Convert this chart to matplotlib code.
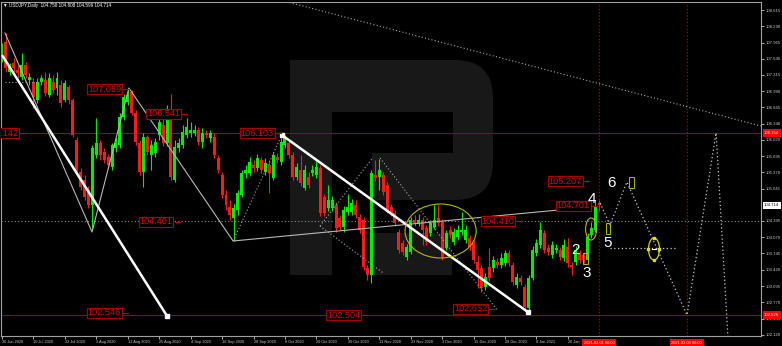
import matplotlib
matplotlib.use('Agg')
import matplotlib.pyplot as plt
from matplotlib.patches import Ellipse, Rectangle, FancyBboxPatch
from matplotlib import transforms

plt.rcParams['font.family'] = ['Liberation Sans', 'DejaVu Sans']

# ---------------- data (USDJPY daily) ----------------
opens = [107.615, 107.975, 107.375, 107.555, 107.415, 107.275, 107.515, 107.215, 107.175, 106.815,
         107.175, 107.215, 106.915, 107.175, 107.055, 107.115, 106.815, 107.075, 106.815, 106.015,
         105.375, 105.215, 105.015, 104.715, 105.715, 105.955, 105.775, 105.675, 105.475, 105.855,
         105.915, 106.475, 106.775, 106.975, 106.555, 105.955, 105.375, 106.075, 105.715, 105.755,
         106.115, 106.315, 105.955, 106.555, 105.215, 105.855, 105.915, 106.115, 106.155, 106.155,
         106.215, 105.975, 106.155, 106.055, 106.075, 105.655, 105.315, 104.915, 104.675, 104.455,
         104.615, 104.915, 105.355, 105.355, 105.515, 105.455, 105.615, 105.375, 105.515, 105.255,
         105.675, 105.575, 105.915, 105.955, 105.715, 105.275, 105.415, 105.055, 105.275, 105.355,
         105.315, 105.455, 104.875, 104.655, 104.655, 104.715, 104.455, 104.275, 104.575, 104.575,
         104.715, 104.475, 104.415, 103.455, 103.315, 105.315, 105.275, 105.315, 105.115, 104.675,
         104.555, 104.175, 103.955, 103.675, 103.775, 104.415, 104.355, 104.415, 104.255, 104.155,
         104.275, 104.455, 104.375, 103.855, 104.215, 103.975, 104.075, 104.175, 104.015, 104.055,
         103.955, 103.575, 103.455, 103.075, 103.475, 103.455, 103.575, 103.515, 103.555, 103.755,
         103.515, 103.115, 103.255, 103.075, 102.655, 103.255, 103.755, 103.915, 104.155, 103.855,
         103.715, 103.815, 103.815, 103.655, 103.875, 103.515, 103.575, 103.755, 103.715, 103.615,
         104.115, 104.215, 104.758]
highs = [107.955, 108.155, 107.555, 107.655, 107.515, 107.755, 107.575, 107.355, 107.255, 107.255,
         107.315, 107.375, 107.355, 107.315, 107.375, 107.215, 107.215, 107.115, 106.855, 106.075,
         105.455, 105.315, 105.095, 105.915, 106.455, 106.015, 105.855, 105.735, 105.955, 106.055,
         106.555, 106.935, 107.055, 107.015, 106.615, 106.015, 106.155, 106.115, 106.015, 106.055,
         106.455, 106.515, 106.715, 106.935, 106.015, 106.055, 106.315, 106.455, 106.375, 106.315,
         106.275, 106.255, 106.215, 106.215, 106.155, 105.715, 105.375, 105.015, 104.815, 104.735,
         105.015, 105.415, 105.515, 105.675, 105.615, 105.735, 105.675, 105.655, 105.615, 105.775,
         105.755, 106.055, 106.115, 106.015, 105.775, 105.555, 105.715, 105.515, 105.375, 105.515,
         105.615, 105.515, 104.935, 105.115, 104.895, 104.775, 104.515, 104.695, 104.935, 104.835,
         104.815, 104.535, 104.475, 103.515, 105.415, 105.615, 105.635, 105.375, 105.175, 104.735,
         104.615, 104.235, 104.015, 103.935, 104.475, 104.515, 104.535, 104.475, 104.315, 104.415,
         104.715, 104.715, 104.435, 104.215, 104.295, 104.255, 104.315, 104.575, 104.315, 104.115,
         104.015, 103.715, 103.515, 103.355, 103.855, 103.695, 103.655, 103.755, 103.815, 103.815,
         103.575, 103.355, 103.315, 103.135, 103.315, 103.895, 104.035, 104.375, 104.215, 103.935,
         103.995, 103.935, 103.875, 104.035, 104.055, 103.575, 103.895, 103.815, 103.775, 104.155,
         104.375, 104.815, 104.808]
lows = [107.575, 107.375, 107.315, 107.375, 107.255, 107.215, 107.255, 107.115, 106.655, 106.755,
        107.115, 106.895, 106.875, 106.955, 106.915, 106.675, 106.775, 106.735, 106.075, 105.295,
        105.015, 104.815, 104.655, 104.215, 105.655, 105.615, 105.555, 105.455, 105.415, 105.775,
        105.855, 106.415, 106.715, 106.515, 105.915, 105.315, 105.075, 105.715, 105.415, 105.675,
        106.015, 105.895, 105.895, 105.215, 105.175, 105.775, 105.855, 106.055, 106.075, 106.095,
        105.915, 105.855, 106.055, 105.975, 105.655, 105.355, 104.855, 104.615, 104.415, 103.995,
        104.515, 104.875, 105.255, 105.295, 105.375, 105.395, 105.355, 105.315, 104.955, 105.215,
        105.555, 105.515, 105.855, 105.655, 105.215, 105.215, 105.095, 105.015, 105.055, 105.295,
        105.255, 104.495, 104.495, 104.595, 104.595, 104.175, 104.215, 104.175, 104.515, 104.515,
        104.455, 104.155, 103.415, 103.215, 103.155, 105.195, 105.015, 104.915, 104.555, 104.495,
        104.295, 103.755, 103.715, 103.615, 103.735, 104.295, 104.295, 103.915, 103.915, 104.095,
        104.235, 104.295, 103.615, 103.815, 104.055, 103.915, 104.015, 104.115, 103.955, 103.815,
        103.555, 103.055, 102.975, 103.015, 103.195, 103.375, 103.455, 103.455, 103.495, 103.495,
        103.115, 103.055, 103.115, 102.615, 102.575, 103.215, 103.695, 103.855, 103.755, 103.715,
        103.655, 103.755, 103.615, 103.595, 103.475, 103.315, 103.515, 103.555, 103.555, 103.575,
        104.055, 104.175, 104.599]
closes = [107.915, 107.455, 107.475, 107.455, 107.355, 107.515, 107.315, 107.275, 106.875, 107.175,
          107.255, 106.955, 107.255, 107.015, 107.255, 106.755, 107.155, 106.815, 106.115, 105.355,
          105.075, 104.875, 104.715, 105.855, 105.955, 105.715, 105.615, 105.515, 105.915, 105.955,
          106.475, 106.875, 106.915, 106.555, 105.975, 105.375, 106.075, 105.775, 105.915, 105.975,
          106.375, 105.955, 106.555, 105.275, 105.875, 105.955, 106.175, 106.275, 106.215, 106.215,
          105.975, 106.155, 106.115, 106.155, 105.715, 105.415, 104.915, 104.715, 104.515, 104.655,
          104.955, 105.355, 105.415, 105.575, 105.455, 105.655, 105.415, 105.555, 105.355, 105.715,
          105.615, 105.975, 106.055, 105.715, 105.275, 105.475, 105.155, 105.415, 105.115, 105.415,
          105.475, 104.555, 104.555, 104.815, 104.815, 104.255, 104.275, 104.615, 104.675, 104.755,
          104.515, 104.215, 103.475, 103.315, 105.355, 105.255, 105.415, 104.975, 104.615, 104.555,
          104.355, 103.815, 103.775, 103.875, 104.415, 104.355, 104.415, 104.215, 103.975, 104.355,
          104.415, 104.355, 103.675, 104.155, 104.115, 104.175, 104.215, 104.215, 104.215, 103.875,
          103.615, 103.415, 103.055, 103.275, 103.255, 103.615, 103.515, 103.655, 103.755, 103.555,
          103.175, 103.275, 103.175, 102.675, 103.255, 103.815, 103.955, 104.215, 103.815, 103.775,
          103.915, 103.855, 103.675, 103.915, 103.555, 103.475, 103.815, 103.615, 103.615, 104.075,
          104.255, 104.675, 104.714]

date_labels = ["30 Jun 2020", "10 Jul 2020", "22 Jul 2020", "3 Aug 2020", "13 Aug 2020",
               "25 Aug 2020", "4 Sep 2020", "16 Sep 2020", "28 Sep 2020", "8 Oct 2020",
               "20 Oct 2020", "30 Oct 2020", "11 Nov 2020", "23 Nov 2020", "3 Dec 2020",
               "15 Dec 2020", "28 Dec 2020", "8 Jan 2021", "20 Jan"]
date_positions = [0, 8, 16, 24, 32, 40, 48, 56, 64, 72, 80, 88, 96, 104, 112, 120, 128, 136, 144]

price_ticks = [108.615, 108.290, 107.965, 107.640, 107.315, 106.990, 106.665, 106.340, 106.020,
               105.695, 105.370, 105.045, 104.395, 104.070, 103.745, 103.420, 103.095, 102.770,
               102.445, 102.120]

# level labels on the chart (text, bar index, price)
level_texts = ["107.059", "106.541", "106.103", "106.142", "104.401", "104.410", "104.701",
               "105.207", "102.546", "102.504", "102.652"]
level_idx = [26.2, 41.2, 64.9, -0.1, 39.2, 126.2, 145.3, 143.3, 26.0, 87.0, 119.3]
level_price = [107.035, 106.535, 106.155, 106.155, 104.375, 104.395, 104.695, 105.195,
               102.555, 102.515, 102.635]

red_levels = [106.155, 102.515]
dotted_level = 104.395
current_close = 104.714

# trend lines (bar index, price)
white_1_x, white_1_y = [0.0, 42.0], [107.715, 102.495]
white_2_x, white_2_y = [71.2, 133.8], [106.115, 102.575]
zigzag_x = [0.76, 22.9, 32.3, 58.8, 149.6]
zigzag_y = [108.155, 104.175, 107.055, 103.995, 104.675]
dotted_segments = [
    ([58.8, 71.2], [103.995, 106.115]),
    ([80.9, 94.1], [104.295, 105.635]),
    ([96.2, 126.0], [105.655, 102.615]),
    ([80.9, 97.0], [104.295, 103.355]),
    ([70.7, 193.1], [108.815, 106.295]),
    ([0.8, 7.9], [107.175, 107.175]),
]
forecast_x = [152.2, 154.7, 159.0, 174.3, 181.7, 184.7]
forecast_y = [104.755, 104.315, 105.175, 102.515, 106.155, 102.095]
forecast_h_x, forecast_h_y = [154.7, 171.2], [103.855, 103.855]
wave_texts = ["2", "3", "4", "5", "6"]
wave_x = [146.0, 148.9, 150.1, 154.0, 155.0]
wave_y = [103.815, 103.355, 104.835, 103.955, 105.155]
vlines_idx = [152.0, 174.2]
vline_texts = ["2021.02.01 00:00", "2021.03.03 00:00"]

# ---------------- figure ----------------
W, H = 782, 346
fig = plt.figure(figsize=(W / 100, H / 100), dpi=100, facecolor='black')
ax = fig.add_axes([1 / W, 10 / H, 760 / W, 334 / H])
ax.set_facecolor('black')
ax.set_xlim(-0.25, 193.13)
ax.set_ylim(102.095, 108.775)

# watermark (pixel coordinates)
pix = transforms.IdentityTransform()
wm = '#181818'
def wrect(x0, y0, x1, y1, c=wm, z=0.2):
    ax.add_patch(Rectangle((x0, H - y1), x1 - x0, y1 - y0, transform=pix, fc=c, ec='none', zorder=z))
ax.add_patch(FancyBboxPatch((290, H - 200), 203, 140, boxstyle='round,pad=0,rounding_size=38',
                            transform=pix, fc=wm, ec='none', zorder=0.2))
wrect(290, 60, 340, 200)
wrect(290, 60, 332, 275)
wrect(332, 112, 453, 153, c='black', z=0.3)
wrect(332, 153, 372, 200, c='black', z=0.3)
wrect(372, 233, 452, 275)

# horizontal levels
for lv in red_levels:
    ax.axhline(lv, color='#a00000', lw=0.8, zorder=1)
ax.axhline(dotted_level, color='#8a8a8a', lw=0.8, ls=(0, (1, 2)), zorder=1)
for vx in vlines_idx:
    ax.axvline(vx, color='#c00000', lw=0.8, ls=(0, (1, 2)), zorder=1)

# candles
n = len(opens)
xs = list(range(n))
for i in xs:
    o, h, l, c = opens[i], highs[i], lows[i], closes[i]
    col = '#00ee00' if c >= o else '#ff1a1a'
    ax.vlines(i, l, h, color=col, lw=0.8, zorder=3)
    ax.bar(i, max(abs(c - o), 0.012), bottom=min(o, c), width=0.76, color=col, lw=0, zorder=3)

# trend lines
ax.plot(zigzag_x, zigzag_y, color='#b8b8b8', lw=0.8, zorder=4)
for sx, sy in dotted_segments:
    ax.plot(sx, sy, color='#a8a8a8', lw=0.8, ls=(0, (1, 2)), zorder=4)
ax.plot(white_1_x, white_1_y, color='white', lw=1.8, zorder=5, solid_capstyle='butt')
ax.plot(white_2_x, white_2_y, color='white', lw=1.8, zorder=5, solid_capstyle='butt')
ax.plot([white_1_x[1], white_2_x[0], white_2_x[1]], [white_1_y[1], white_2_y[0], white_2_y[1]],
        ls='none', marker='s', ms=2.5, color='white', zorder=5)
ax.plot(forecast_x, forecast_y, color='#c8c8c8', lw=0.9, ls=(0, (1, 2)), zorder=4)
ax.plot(forecast_h_x, forecast_h_y, color='#c8c8c8', lw=0.9, ls=(0, (1, 2)), zorder=4)

# ellipses
ax.add_patch(Ellipse((111.6, 104.195), 18.1, 1.08, fill=False, ec='#b8b800', lw=0.8, zorder=5))
ax.add_patch(Ellipse((149.9, 104.235), 2.8, 0.44, fill=False, ec='#b8b800', lw=0.8, zorder=5))
ax.add_patch(Ellipse((165.9, 103.835), 2.8, 0.44, fill=False, ec='#d0d000', lw=0.9, zorder=5))
ax.plot([165.9, 165.9, 164.5, 167.3], [104.055, 103.615, 103.835, 103.835], ls='none',
        marker='s', ms=1.6, color='#e0e000', zorder=6)
ax.plot([165.5, 166.3], [103.835, 103.835], color='white', lw=0.8, zorder=6)
for rx, ry in [(148.4, 103.655), (154.2, 104.255), (160.1, 105.175)]:
    ax.add_patch(Rectangle((rx - 0.6, ry - 0.11), 1.2, 0.22, fill=False, ec='#b8b800', lw=0.7, zorder=6))

# level labels
for t, xi, yp in zip(level_texts, level_idx, level_price):
    ax.text(xi, yp, t, color='#e00000', fontsize=6.6, ha='center', va='center', zorder=7,
            clip_on=True,
            bbox=dict(boxstyle='square,pad=0.1', fc='black', ec='#a80000', lw=0.8))
    ax.plot([xi + 4.7, xi + 6.0], [yp, yp], color='#c00000', lw=0.8, zorder=7)

# wave labels
for t, xi, yp in zip(wave_texts, wave_x, wave_y):
    ax.text(xi, yp, t, color='white', fontsize=11, ha='center', va='center', zorder=8)

# axes styling
for s in ax.spines.values():
    s.set_color('#a0a0a0')
    s.set_linewidth(0.8)
ax.yaxis.tick_right()
ax.set_yticks(price_ticks)
ax.set_yticklabels(["%.3f" % p for p in price_ticks])
ax.tick_params(axis='y', colors='#c8c8c8', labelsize=3.1, length=2, width=0.6, pad=1)
ax.set_xticks(date_positions)
ax.set_xticklabels(date_labels, ha='left')
ax.tick_params(axis='x', colors='#c8c8c8', labelsize=2.8, length=2, width=0.6, pad=1)

blend = transforms.blended_transform_factory(ax.transAxes, ax.transData)
ax.text(1.004, red_levels[0], "106.154", transform=blend, fontsize=3.1, color='white',
        ha='left', va='center', zorder=9, clip_on=False,
        bbox=dict(boxstyle='square,pad=0.35', fc='#ff0000', ec='none'))
ax.text(1.004, red_levels[1], "102.526", transform=blend, fontsize=3.1, color='white',
        ha='left', va='center', zorder=9, clip_on=False,
        bbox=dict(boxstyle='square,pad=0.35', fc='#ff0000', ec='none'))
ax.text(1.004, current_close, "104.714", transform=blend, fontsize=3.1, color='black',
        ha='left', va='center', zorder=9, clip_on=False,
        bbox=dict(boxstyle='square,pad=0.35', fc='white', ec='none'))

blend_x = transforms.blended_transform_factory(ax.transData, ax.transAxes)
for vx, t in zip(vlines_idx, vline_texts):
    ax.text(vx, -0.015, t, transform=blend_x, fontsize=2.9, color='white', ha='center', va='top',
            zorder=9, clip_on=False,
            bbox=dict(boxstyle='square,pad=0.4', fc='#ff0000', ec='none'))

fig.text(3 / W, 1 - 5.5 / H, "\u25bc USDJPY,Daily  104.758 104.808 104.599 104.714", color='white',
         fontsize=3.3, ha='left', va='center')

fig.savefig('out.png', dpi=100, facecolor='black')
